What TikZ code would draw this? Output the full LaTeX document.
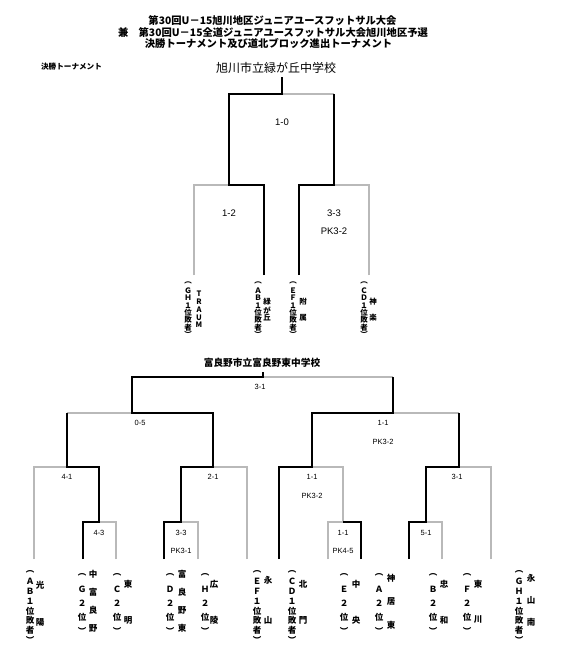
\documentclass[tikz,border=0pt]{standalone}
\usepackage{fontspec}
\newfontfamily\cjk{Noto Sans CJK JP}
\newfontfamily\scorefont{Liberation Sans}
\definecolor{lossgray}{RGB}{185,185,185}
\newcommand\vtext[6]{% name, x, y0, step, style, list
  \foreach \ch [count=\i] in {#6} {\node[#5] (#1-\i) at (#2,{#3+(\i-1)*#4}) {\ch};}}
\begin{document}
\begin{tikzpicture}[x=1pt,y=-1pt,
  win/.style={draw=black,line width=1.8pt,line join=miter},
  lose/.style={draw=lossgray,line width=1.4pt},
  titletext/.style={font=\cjk\bfseries\fontsize{10.3}{12}\selectfont,inner sep=0},
  scorebig/.style={font=\scorefont\fontsize{9.5}{11}\selectfont,inner sep=0},
  scoresmall/.style={font=\scorefont\fontsize{7.5}{9}\selectfont,inner sep=0},
  vchar/.style={font=\cjk\bfseries\fontsize{7.5}{8}\selectfont,inner sep=0},
  vcharb/.style={font=\cjk\bfseries\fontsize{8.5}{9}\selectfont,inner sep=0}]
\useasboundingbox (0,0) rectangle (560,660);
\fill[white] (0,0) rectangle (560,660);

% titles
\node[titletext] (t1) at (272.5,21) {第30回U－15旭川地区ジュニアユースフットサル大会};
\node[titletext] (t2) at (273,33) {兼　第30回U－15全道ジュニアユースフットサル大会旭川地区予選};
\node[titletext] (t3) at (268.5,44) {決勝トーナメント及び道北ブロック進出トーナメント};
\node[font=\cjk\bfseries\fontsize{7.6}{9}\selectfont,inner sep=0] (kessho) at (71.5,67) {決勝トーナメント};
\node[font=\cjk\fontsize{12}{14}\selectfont,inner sep=0] (champ1) at (276,68) {旭川市立緑が丘中学校};
\node[font=\cjk\bfseries\fontsize{9.7}{11}\selectfont,inner sep=0] (champ2) at (262,363) {富良野市立富良野東中学校};

% ---------- upper bracket ----------
\draw[lose] (282,94) -- (334,94);
\draw[lose] (194,275) -- (194,185) -- (229,185);
\draw[lose] (369,275) -- (369,185) -- (334,185);
\draw[win] (264,275) -- (264,185) -- (229,185) -- (229,94) -- (282,94) -- (282,77);
\draw[win] (299,275) -- (299,185) -- (334,185) -- (334,94);

\node[scorebig] (s1) at (282,122) {1-0};
\node[scorebig] (s2) at (229,213) {1-2};
\node[scorebig] (s3) at (334,213) {3-3};
\node[scorebig] (s4) at (334,231) {PK3-2};

\vtext{ua}{188}{283}{7.4}{vchar}{︵,Ｇ,Ｈ,１,位,敗,者,︶}
\vtext{uat}{199}{294}{7.8}{vchar}{T,R,A,U,M}
\vtext{ub}{258}{283}{7.4}{vchar}{︵,Ａ,Ｂ,１,位,敗,者,︶}
\vtext{ubt}{267}{302}{8}{vchar}{緑,が,丘}
\vtext{uc}{293}{283}{7.4}{vchar}{︵,Ｅ,Ｆ,１,位,敗,者,︶}
\vtext{uct}{303}{302}{16}{vchar}{附,属}
\vtext{ud}{364}{283}{7.4}{vchar}{︵,Ｃ,Ｄ,１,位,敗,者,︶}
\vtext{udt}{373}{302}{16}{vchar}{神,楽}

% ---------- lower bracket ----------
\draw[lose] (34,559) -- (34,467) -- (67,467);
\draw[lose] (116,559) -- (116,522) -- (99,522);
\draw[lose] (198,559) -- (198,522) -- (181,522);
\draw[lose] (247,559) -- (247,467) -- (213,467);
\draw[lose] (67,413) -- (132,413);
\draw[lose] (263,377) -- (393,377);
\draw[lose] (393,413) -- (459,413);
\draw[lose] (328,559) -- (328,522) -- (343,522);
\draw[lose] (343,522) -- (343,467) -- (312,467);
\draw[lose] (442,559) -- (442,522) -- (426,522);
\draw[lose] (491,559) -- (491,467) -- (459,467);

\draw[win] (83,559) -- (83,522) -- (99,522) -- (99,467) -- (67,467) -- (67,413);
\draw[win] (164,559) -- (164,522) -- (181,522) -- (181,467) -- (213,467) -- (213,413) -- (132,413) -- (132,377) -- (263,377) -- (263,372);
\draw[win] (279,559) -- (279,467) -- (312,467) -- (312,413) -- (393,413) -- (393,377);
\draw[win] (361,559) -- (361,522) -- (343,522);
\draw[win] (409,559) -- (409,522) -- (426,522) -- (426,467) -- (459,467) -- (459,413);

\node[scoresmall] (l1) at (260,387) {3-1};
\node[scoresmall] (l2) at (140,423) {0-5};
\node[scoresmall] (l3) at (383,423) {1-1};
\node[scoresmall] (l4) at (383,442) {PK3-2};
\node[scoresmall] (l5) at (67,477) {4-1};
\node[scoresmall] (l6) at (213,477) {2-1};
\node[scoresmall] (l7) at (312,477) {1-1};
\node[scoresmall] (l8) at (312,496) {PK3-2};
\node[scoresmall] (l9) at (457,477) {3-1};
\node[scoresmall] (l10) at (99,533) {4-3};
\node[scoresmall] (l11) at (181,533) {3-3};
\node[scoresmall] (l12) at (181,551) {PK3-1};
\node[scoresmall] (l13) at (343,533) {1-1};
\node[scoresmall] (l14) at (343,551) {PK4-5};
\node[scoresmall] (l15) at (426,533) {5-1};

% team labels
\vtext{b1}{30}{572}{9.7}{vcharb}{︵,Ａ,Ｂ,１,位,敗,者,︶}
\vtext{b1t}{40}{585}{37}{vcharb}{光,陽}
\vtext{b2}{82}{575}{14}{vcharb}{︵,Ｇ,２,位,︶}
\vtext{b2t}{93}{574}{18}{vcharb}{中,富,良,野}
\vtext{b3}{117}{575}{14}{vcharb}{︵,Ｃ,２,位,︶}
\vtext{b3t}{128}{584}{36}{vcharb}{東,明}
\vtext{b4}{170}{575}{14}{vcharb}{︵,Ｄ,２,位,︶}
\vtext{b4t}{182}{574}{18}{vcharb}{富,良,野,東}
\vtext{b5}{205}{575}{14}{vcharb}{︵,Ｈ,２,位,︶}
\vtext{b5t}{214}{584}{36}{vcharb}{広,陵}
\vtext{b6}{257}{572}{9.7}{vcharb}{︵,Ｅ,Ｆ,１,位,敗,者,︶}
\vtext{b6t}{268}{580}{40}{vcharb}{永,山}
\vtext{b7}{292}{572}{9.7}{vcharb}{︵,Ｃ,Ｄ,１,位,敗,者,︶}
\vtext{b7t}{303}{584}{36}{vcharb}{北,門}
\vtext{b8}{344}{575}{14}{vcharb}{︵,Ｅ,２,位,︶}
\vtext{b8t}{356}{584}{36}{vcharb}{中,央}
\vtext{b9}{379}{575}{14}{vcharb}{︵,Ａ,２,位,︶}
\vtext{b9t}{391}{578}{23.5}{vcharb}{神,居,東}
\vtext{b10}{433}{575}{14}{vcharb}{︵,Ｂ,２,位,︶}
\vtext{b10t}{444}{584}{36}{vcharb}{忠,和}
\vtext{b11}{467}{575}{14}{vcharb}{︵,Ｆ,２,位,︶}
\vtext{b11t}{478}{584}{36}{vcharb}{東,川}
\vtext{b12}{519}{572}{9.7}{vcharb}{︵,Ｇ,Ｈ,１,位,敗,者,︶}
\vtext{b12t}{531}{578}{22}{vcharb}{永,山,南}
\end{tikzpicture}
\end{document}
